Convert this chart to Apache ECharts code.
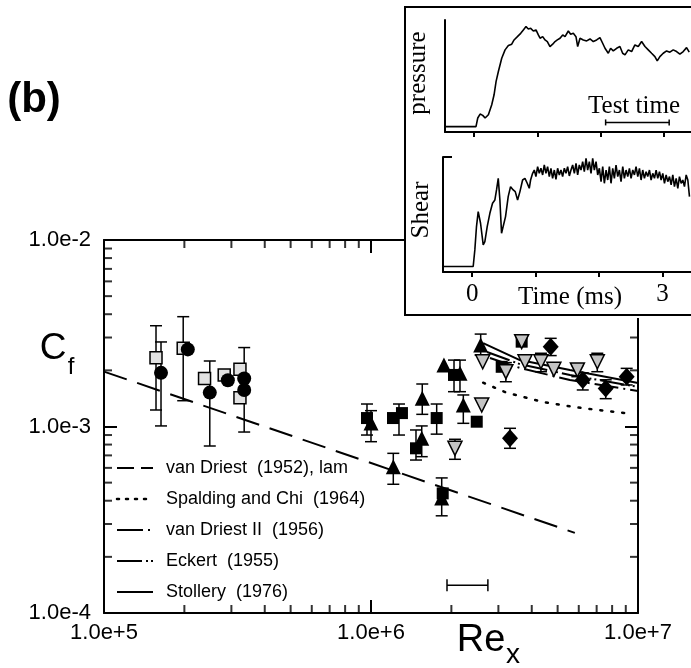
<!DOCTYPE html>
<html>
<head>
<meta charset="utf-8">
<script src="https://cdn.jsdelivr.net/npm/echarts@6.0.0/dist/echarts.min.js"></script>
<style>
html, body { margin: 0; padding: 0; background: #fff; overflow: hidden; }
#main { position: absolute; left: 0; top: 0; width: 691px; height: 668px; }
#inset { position: absolute; left: 404px; top: 6px; width: 287px; height: 312px; background: #fff; }
</style>
</head>
<body>
<div id="main"></div>
<div id="inset"></div>
<script>
// ---- main plot data (Re_x, Cf) ----
const circles = [[1.635e5, 1.94e-3], [2.06e5, 2.59e-3], [2.49e5, 1.52e-3], [2.91e5, 1.77e-3], [3.35e5, 1.81e-3], [3.35e5, 1.57e-3]]
const graySquares = [[1.566e5, 2.34e-3], [1.98e5, 2.63e-3], [2.38e5, 1.81e-3], [2.82e5, 1.89e-3], [3.23e5, 2.025e-3], [3.23e5, 1.427e-3]]
const blackSquares = [[9.66e5, 1.11e-3], [1.209e6, 1.11e-3], [1.306e6, 1.18e-3], [1.762e6, 1.11e-3], [1.474e6, 7.64e-4],
  [1.856e6, 4.38e-4], [2.046e6, 1.89e-3], [2.489e6, 1.061e-3], [3.087e6, 2.09e-3], [3.667e6, 2.85e-3]]
const triangles = [[1.0e6, 1.044e-3], [1.556e6, 1.416e-3], [1.549e6, 8.64e-4], [1.212e6, 6.09e-4], [1.84e6, 4.14e-4],
  [1.876e6, 2.14e-3], [2.154e6, 1.93e-3], [2.217e6, 1.304e-3], [2.575e6, 2.735e-3]]
const downTriangles = [[2.598e6, 1.304e-3], [2.063e6, 7.64e-4], [2.62e6, 2.225e-3], [3.2e6, 1.967e-3], [3.667e6, 2.85e-3],
  [3.774e6, 2.225e-3], [4.33e6, 2.225e-3], [4.84e6, 2.025e-3], [5.93e6, 2.01e-3], [7.04e6, 2.225e-3]]
const diamonds = [[3.316e6, 8.64e-4], [4.71e6, 2.68e-3], [6.21e6, 1.776e-3], [7.57e6, 1.6e-3], [9.07e6, 1.85e-3]]
// error bars: [Re, low, high]
const errorBars = [
  [1.566e5, 1.226e-3, 3.47e-3], [1.635e5, 1.007e-3, 2.84e-3], [1.98e5, 1.375e-3, 3.88e-3], [2.49e5, 7.86e-4, 2.245e-3],
  [3.35e5, 9.34e-4, 2.65e-3], [9.66e5, 9.0e-4, 1.32e-3], [1.0e6, 8.29e-4, 1.216e-3], [1.273e6, 9.0e-4, 1.32e-3],
  [1.556e6, 1.162e-3, 1.69e-3], [1.762e6, 9.1e-4, 1.32e-3], [1.474e6, 6.61e-4, 9.58e-4], [1.549e6, 6.89e-4, 1.007e-3],
  [1.212e6, 4.9e-4, 7.18e-4], [1.84e6, 3.32e-4, 5.3e-4], [2.046e6, 1.537e-3, 2.27e-3], [2.154e6, 1.537e-3, 2.27e-3],
  [2.217e6, 1.04e-3, 1.476e-3], [2.063e6, 6.67e-4, 8.54e-4], [3.316e6, 7.64e-4, 9.78e-4], [2.575e6, 2.41e-3, 3.13e-3],
  [3.2e6, 1.738e-3, 2.2e-3], [4.71e6, 2.4e-3, 2.97e-3], [4.33e6, 1.967e-3, 2.47e-3], [5.93e6, 1.85e-3, 2.12e-3],
  [7.04e6, 1.967e-3, 2.47e-3], [6.21e6, 1.57e-3, 1.94e-3], [7.57e6, 1.41e-3, 1.78e-3], [9.07e6, 1.67e-3, 2.05e-3]
]
// theory curves
const vanDriestLam = [[1e5, 1.97e-3], [5.8e6, 2.69e-4]]
const spaldingChi = [[2.63e6, 1.717e-3], [3.22e6, 1.518e-3], [4.36e6, 1.358e-3], [5.84e6, 1.268e-3], [9.57e6, 1.167e-3]]
const vanDriestII = [[2.79e6, 2.33e-3], [3.61e6, 2.06e-3], [5.56e6, 1.776e-3], [1e7, 1.55e-3]]
const eckert = [[2.72e6, 2.51e-3], [3.61e6, 2.16e-3], [5.56e6, 1.89e-3], [1e7, 1.63e-3]]
const stollery = [[2.63e6, 2.80e-3], [3.61e6, 2.27e-3], [5.56e6, 2.01e-3], [1e7, 1.71e-3]]
const curveNames = ['van Driest  (1952), lam', 'Spalding and Chi  (1964)', 'van Driest II  (1956)', 'Eckert  (1955)', 'Stollery  (1976)']
// test time range: [Re low, Re high, Cf]
const testTimeRe = [[1.926e6, 2.74e6, 1.41e-4]]
// axis ranges and minor ticks
const reMin = 1e5, reMax = 1e7, cfMin = 1e-4, cfMax = 1e-2
const reMinorTicks = [2e5, 3e5, 4e5, 5e5, 6e5, 7e5, 8e5, 9e5, 2e6, 3e6, 4e6, 5e6, 6e6, 7e6, 8e6, 9e6]
const cfMinorTicks = [2e-4, 3e-4, 4e-4, 5e-4, 6e-4, 7e-4, 8e-4, 9e-4, 2e-3, 3e-3, 4e-3, 5e-3, 6e-3, 7e-3, 8e-3, 9e-3]

// ---- inset data: [time ms, signal (arb.)] ----
const pressure = [
  [-0.48, 0], [0.03, 0], [0.058, 8.1], [0.095, 11.8], [0.137, 10.6], [0.174, 8.1], [0.226, 11.2], [0.279, 20.6],
  [0.316, 29.9], [0.348, 42.4], [0.384, 51.7], [0.437, 64.2], [0.49, 72.0], [0.542, 76.0], [0.595, 77.3], [0.632, 81.3],
  [0.685, 84.4], [0.737, 87.5], [0.779, 90.7], [0.821, 93.8], [0.858, 91.6], [0.895, 92.2], [0.937, 89.7], [0.979, 90.7],
  [1.016, 86.0], [1.043, 82.9], [1.085, 84.4], [1.122, 81.3], [1.158, 79.8], [1.2, 75.1], [1.243, 77.3], [1.28, 79.8],
  [1.316, 81.3], [1.359, 82.9], [1.401, 86.0], [1.438, 84.4], [1.49, 89.7], [1.527, 86.6], [1.569, 87.5], [1.611, 84.4],
  [1.638, 75.1], [1.675, 82.9], [1.727, 81.3], [1.78, 80.4], [1.833, 82.2], [1.885, 79.8], [1.938, 81.3], [1.99, 83.5],
  [2.033, 78.2], [2.07, 73.5], [2.122, 68.8], [2.159, 73.5], [2.201, 71.0], [2.254, 73.5], [2.306, 75.1], [2.349, 68.8],
  [2.386, 67.3], [2.438, 72.0], [2.491, 70.4], [2.543, 76.6], [2.596, 75.1], [2.649, 79.8], [2.702, 75.1], [2.754, 72.0],
  [2.807, 68.8], [2.859, 65.7], [2.896, 61.7], [2.938, 65.7], [2.991, 68.8], [3.044, 71.0], [3.096, 69.8], [3.149, 72.0],
  [3.202, 70.4], [3.254, 67.9], [3.307, 70.4], [3.36, 74.1], [3.402, 69.8]
]
const shear = [
  [-0.458, 0], [0.016, 0], [0.042, 15.2], [0.068, 36.5], [0.095, 50.2], [0.132, 39.5], [0.174, 19.8], [0.2, 22.8],
  [0.237, 36.5], [0.279, 48.6], [0.321, 57.8], [0.358, 60.8], [0.384, 69.9], [0.411, 80.5], [0.437, 60.8], [0.463, 30.4],
  [0.489, 30.4], [0.526, 45.6], [0.568, 63.8], [0.605, 72.9], [0.647, 69.9], [0.679, 68.4], [0.716, 60.8], [0.753, 68.4],
  [0.795, 79.0], [0.832, 80.5], [0.868, 76.0], [0.9, 71.4], [0.921, 79.0], [0.953, 85.1], [0.979, 88.1], [1.005, 82.1],
  [1.032, 91.2], [1.058, 85.1], [1.084, 89.7], [1.111, 83.6], [1.137, 92.7], [1.163, 85.1], [1.189, 91.2], [1.216, 82.1],
  [1.242, 89.7], [1.268, 80.5], [1.295, 88.1], [1.321, 79.6], [1.347, 89.7], [1.374, 83.6], [1.4, 88.1], [1.426, 82.1],
  [1.453, 89.7], [1.479, 85.1], [1.505, 91.2], [1.532, 82.7], [1.558, 88.1], [1.584, 92.7], [1.611, 85.1], [1.637, 94.2],
  [1.663, 83.6], [1.689, 92.7], [1.716, 88.1], [1.742, 95.7], [1.768, 86.6], [1.795, 98.8], [1.821, 88.1], [1.847, 95.7],
  [1.874, 85.1], [1.9, 98.8], [1.926, 88.1], [1.953, 95.7], [1.979, 83.6], [2.005, 89.7], [2.032, 77.5], [2.058, 91.2],
  [2.084, 76.0], [2.111, 88.1], [2.137, 79.0], [2.163, 91.2], [2.189, 76.0], [2.216, 89.7], [2.242, 80.5], [2.268, 92.7],
  [2.295, 82.1], [2.321, 88.1], [2.347, 77.5], [2.374, 91.2], [2.4, 80.5], [2.426, 88.1], [2.453, 82.1], [2.479, 89.7],
  [2.505, 80.5], [2.532, 88.1], [2.558, 83.6], [2.584, 91.2], [2.611, 82.1], [2.637, 89.7], [2.663, 79.0], [2.689, 88.1],
  [2.716, 80.5], [2.742, 86.6], [2.768, 82.1], [2.795, 88.1], [2.821, 79.0], [2.847, 85.1], [2.874, 80.5], [2.9, 88.1],
  [2.926, 80.5], [2.953, 86.6], [2.979, 79.0], [3.005, 85.1], [3.032, 76.0], [3.058, 83.6], [3.084, 77.5], [3.111, 82.1],
  [3.137, 74.5], [3.163, 83.6], [3.189, 72.9], [3.216, 80.5], [3.242, 71.4], [3.268, 82.1], [3.295, 76.0], [3.321, 79.0],
  [3.347, 72.9], [3.374, 83.6], [3.4, 79.0], [3.426, 63.8]
]
const testTimeMs = [[2.08, 3.085, 4]]
const timeTicks = [0, 1, 2, 3]
const timeLabels = [0, 3]

const sans = 'Liberation Sans, Arial, sans-serif'
const serif = 'Liberation Serif, Times New Roman, serif'
const black = '#000'

function seg(x1, y1, x2, y2, w) {
  return { type: 'line', shape: { x1, y1, x2, y2 }, style: { stroke: black, lineWidth: w || 1.5 } }
}
// vertical error bar with caps
function renderErr(params, api) {
  const a = api.coord([api.value(0), api.value(1)])
  const b = api.coord([api.value(0), api.value(2)])
  const w = 6
  return { type: 'group', children: [seg(a[0], a[1], b[0], b[1]), seg(a[0] - w, a[1], a[0] + w, a[1]), seg(b[0] - w, b[1], b[0] + w, b[1])] }
}
// horizontal range bar with end caps
function rangeRenderer(cap) {
  return function (params, api) {
    const a = api.coord([api.value(0), api.value(2)])
    const b = api.coord([api.value(1), api.value(2)])
    return { type: 'group', children: [seg(a[0], a[1], b[0], b[1]), seg(a[0], a[1] - cap, a[0], a[1] + cap), seg(b[0], b[1] - cap, b[0], b[1] + cap)] }
  }
}
// short inward minor tick marks: thin rect symbols on the frame, shifted inside
function tickSeries(data, size, offset) {
  return { type: 'scatter', data, symbol: 'rect', symbolSize: size, symbolOffset: offset, clip: false,
    itemStyle: { color: black } }
}

const logAxisBase = {
  type: 'log', logBase: 10,
  axisLine: { onZero: false, lineStyle: { color: black, width: 2 } },
  axisTick: { inside: true, length: 13, lineStyle: { color: black, width: 2 } },
  splitLine: { show: false }
}
const fmt = v => Number(v).toExponential(1)

// hand-built legend (line sample + label)
const legendDash = [[17, 7], [2, 7], [26, 5, 2, 5], [25, 4, 2, 3, 2, 3], null]
const legendGraphic = []
curveNames.forEach((name, i) => {
  const y = 468 + i * 31
  legendGraphic.push({ type: 'line', shape: { x1: 117, y1: y, x2: 153, y2: y },
    style: { stroke: black, lineWidth: i === 1 ? 2.5 : 2, lineDash: legendDash[i], lineCap: i === 1 ? 'round' : 'butt' } })
  legendGraphic.push({ type: 'text', x: 166, y, style: { text: name, fontSize: 18, fontFamily: sans, fill: black, align: 'left', verticalAlign: 'middle' } })
})

const mainChart = echarts.init(document.getElementById('main'))
mainChart.setOption({
  animation: false,
  backgroundColor: '#fff',
  grid: { left: 104, top: 240, width: 534, height: 373 },
  xAxis: [
    Object.assign({}, logAxisBase, { min: reMin, max: reMax, position: 'bottom',
      axisLabel: { formatter: fmt, fontSize: 22, fontFamily: sans, color: black, margin: 9 } }),
    Object.assign({}, logAxisBase, { min: reMin, max: reMax, position: 'top', axisLabel: { show: false } })
  ],
  yAxis: [
    Object.assign({}, logAxisBase, { min: cfMin, max: cfMax, position: 'left',
      axisLabel: { formatter: fmt, fontSize: 22, fontFamily: sans, color: black, margin: 13 } }),
    Object.assign({}, logAxisBase, { min: cfMin, max: cfMax, position: 'right', axisLabel: { show: false } })
  ],
  graphic: [
    { type: 'text', x: 34, y: 100, style: { text: '(b)', fontSize: 42, fontWeight: 'bold', fontFamily: sans, fill: black, align: 'center', verticalAlign: 'middle' } },
    { type: 'text', x: 53, y: 349, style: { text: 'C', fontSize: 37, fontFamily: sans, fill: black, align: 'center', verticalAlign: 'middle' } },
    { type: 'text', x: 71, y: 367, style: { text: 'f', fontSize: 24, fontFamily: sans, fill: black, align: 'center', verticalAlign: 'middle' } },
    { type: 'text', x: 481, y: 641, style: { text: 'Re', fontSize: 38, fontFamily: sans, fill: black, align: 'center', verticalAlign: 'middle' } },
    { type: 'text', x: 513, y: 655, style: { text: 'x', fontSize: 28, fontFamily: sans, fill: black, align: 'center', verticalAlign: 'middle' } }
  ].concat(legendGraphic),
  series: [
    tickSeries(reMinorTicks.map(v => [v, cfMin]), [2, 8], [0, -4]),
    tickSeries(reMinorTicks.map(v => [v, cfMax]), [2, 8], [0, 4]),
    tickSeries(cfMinorTicks.map(v => [reMin, v]), [8, 2], [4, 0]),
    tickSeries(cfMinorTicks.map(v => [reMax, v]), [8, 2], [-4, 0]),
    { name: curveNames[0], type: 'line', data: vanDriestLam, symbol: 'none', z: 2,
      lineStyle: { color: black, width: 2, type: [24, 11] } },
    { name: curveNames[1], type: 'line', data: spaldingChi, symbol: 'none', z: 2,
      lineStyle: { color: black, width: 2.5, type: [2, 9], cap: 'round' } },
    { name: curveNames[2], type: 'line', data: vanDriestII, symbol: 'none', z: 2,
      lineStyle: { color: black, width: 2, type: [24, 5, 2, 5] } },
    { name: curveNames[3], type: 'line', data: eckert, symbol: 'none', z: 2,
      lineStyle: { color: black, width: 2, type: [24, 4, 2, 3, 2, 4] } },
    { name: curveNames[4], type: 'line', data: stollery, symbol: 'none', z: 2,
      lineStyle: { color: black, width: 2 } },
    { type: 'custom', renderItem: renderErr, data: errorBars, encode: { x: 0, y: [1, 2] }, z: 3 },
    { type: 'custom', renderItem: rangeRenderer(6), data: testTimeRe, encode: { x: [0, 1], y: 2 }, z: 3 },
    { type: 'scatter', data: graySquares, symbol: 'rect', symbolSize: 12, z: 4,
      itemStyle: { color: '#e2e2e2', borderColor: black, borderWidth: 1.5, opacity: 1 } },
    { type: 'scatter', data: circles, symbol: 'circle', symbolSize: 14, z: 5, itemStyle: { color: black, opacity: 1 } },
    { type: 'scatter', data: blackSquares, symbol: 'rect', symbolSize: 12, z: 4, itemStyle: { color: black, opacity: 1 } },
    { type: 'scatter', data: triangles, symbol: 'triangle', symbolSize: 15, z: 5, itemStyle: { color: black, opacity: 1 } },
    { type: 'scatter', data: downTriangles, symbol: 'triangle', symbolRotate: 180, symbolSize: 14, z: 6,
      itemStyle: { color: '#c4c4c4', borderColor: black, borderWidth: 1.5, opacity: 1 } },
    { type: 'scatter', data: diamonds, symbol: 'diamond', symbolSize: [16, 18], z: 5, itemStyle: { color: black, opacity: 1 } }
  ]
})

// ---- inset ----
const insetChart = echarts.init(document.getElementById('inset'))
const timeAxis = (grid, min, max, labels) => ({
  gridIndex: grid, type: 'value', min, max,
  axisLine: { onZero: false, lineStyle: { color: black, width: 2 } },
  axisTick: { customValues: timeTicks, inside: false, length: 5, lineStyle: { color: black, width: 2 } },
  axisLabel: labels ? { customValues: timeLabels, fontSize: 25, fontFamily: serif, color: black, margin: 10 } : { show: false },
  splitLine: { show: false }
})
const sigAxis = grid => ({
  gridIndex: grid, type: 'value', min: -5, max: 100,
  axisLine: { onZero: false, lineStyle: { color: black, width: 2 } },
  axisTick: { show: false }, axisLabel: { show: false }, splitLine: { show: false }
})
insetChart.setOption({
  animation: false,
  backgroundColor: '#fff',
  grid: [
    { left: 41, top: 14, width: 246, height: 112 },
    { left: 39, top: 151, width: 248, height: 115 }
  ],
  xAxis: [timeAxis(0, -0.46, 3.43, false), timeAxis(1, -0.46, 3.45, true)],
  yAxis: [sigAxis(0), sigAxis(1)],
  graphic: [
    { type: 'rect', shape: { x: 1, y: 1, width: 320, height: 308 }, style: { fill: 'none', stroke: black, lineWidth: 2 }, z: 100 },
    { type: 'line', shape: { x1: 39, y1: 151, x2: 48, y2: 151 }, style: { stroke: black, lineWidth: 2 } },
    { type: 'text', x: 14, y: 67, rotation: Math.PI / 2, style: { text: 'pressure', fontSize: 25, fontFamily: serif, fill: black, align: 'center', verticalAlign: 'middle' } },
    { type: 'text', x: 17, y: 204, rotation: Math.PI / 2, style: { text: 'Shear', fontSize: 25, fontFamily: serif, fill: black, align: 'center', verticalAlign: 'middle' } },
    { type: 'text', x: 230, y: 100, style: { text: 'Test time', fontSize: 25, fontFamily: serif, fill: black, align: 'center', verticalAlign: 'middle' } },
    { type: 'text', x: 166, y: 291, style: { text: 'Time (ms)', fontSize: 25, fontFamily: serif, fill: black, align: 'center', verticalAlign: 'middle' } }
  ],
  series: [
    { type: 'line', xAxisIndex: 0, yAxisIndex: 0, data: pressure, symbol: 'none', lineStyle: { color: black, width: 1.6 } },
    { type: 'line', xAxisIndex: 1, yAxisIndex: 1, data: shear, symbol: 'none', lineStyle: { color: black, width: 1.6 } },
    { type: 'custom', xAxisIndex: 0, yAxisIndex: 0, renderItem: rangeRenderer(3), data: testTimeMs, encode: { x: [0, 1], y: 2 } }
  ]
})
</script>
</body>
</html>
